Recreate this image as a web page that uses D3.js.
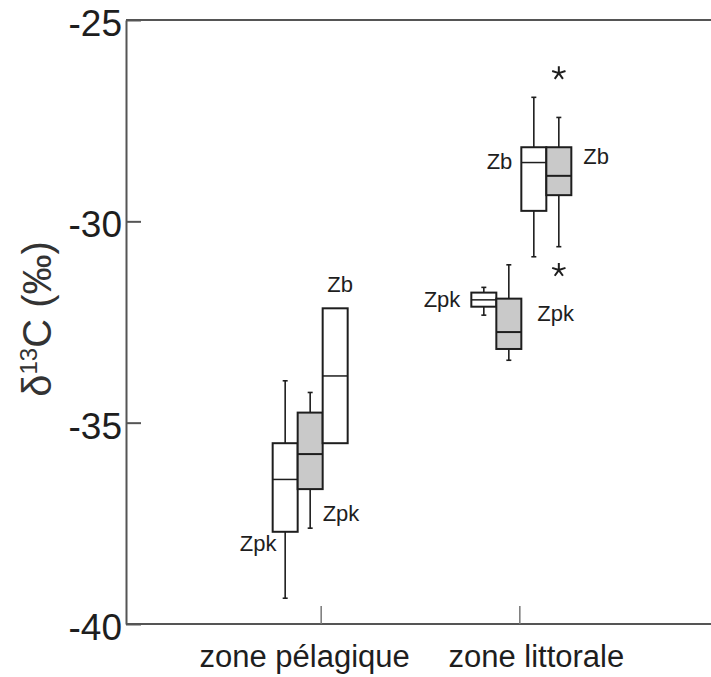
<!DOCTYPE html>
<html>
<head>
<meta charset="utf-8">
<script src="https://cdn.jsdelivr.net/npm/d3@7"></script>
<style>
  html, body { margin: 0; padding: 0; background: #fff; }
  svg { display: block; font-family: "Liberation Sans", Arial, sans-serif; }
</style>
</head>
<body>
<svg id="chart" width="711" height="677"></svg>
<script>
// ---------------- DATA ----------------
const categories = ["zone pélagique", "zone littorale"];
const slots = ["Zpk-blanc", "Zpk-gris", "Zb-blanc", "Zb-gris"];   // white / grey boxes per group
const yTicks = [-25, -30, -35, -40];

// one entry per drawn box
const boxCategory = ["zone pélagique", "zone pélagique", "zone pélagique", "zone littorale", "zone littorale", "zone littorale", "zone littorale"];
const boxSlot     = ["Zpk-blanc", "Zpk-gris", "Zb-blanc", "Zpk-blanc", "Zpk-gris", "Zb-blanc", "Zb-gris"];
const boxLabel    = ["Zpk", "Zpk", "Zb", "Zpk", "Zpk", "Zb", "Zb"];
const whiskerLow  = [-39.36, -37.62, null, -32.33, -33.45, -30.88, -30.63];
const q1          = [-37.71, -36.65, -35.51, -32.12, -33.17, -29.74, -29.35];
const median      = [-36.41, -35.78, -33.84, -31.95, -32.75, -28.54, -28.87];
const q3          = [-35.51, -34.75, -32.16, -31.77, -31.92, -28.16, -28.16];
const whiskerHigh = [-33.96, -34.25, null, -31.64, -31.08, -26.92, -27.42];

// outliers (asterisks)
const outlierCategory = ["zone littorale", "zone littorale"];
const outlierSlot     = ["Zb-gris", "Zb-gris"];
const outlierValue    = [-26.32, -31.21];

// ---------------- LAYOUT ----------------
(function () {
const svg = d3.select("#chart");
const mLeft = 126, mRight = 711, mTop = 20, mBottom = 624;

const y = d3.scaleLinear().domain([-40, -25]).range([mBottom, mTop]);
const x = d3.scalePoint().domain(categories).range([mLeft, 714]).padding(0.98);
const inner = d3.scaleBand().domain(slots).range([-48, 52]).paddingInner(0);
const bw = inner.bandwidth();

// label placement per box (anchor relative to the box)
const labelLayout = [
  {anchor: "middle", dx: b => b.cx - 27,        dy: b => y(b.q1) + 19},
  {anchor: "start",  dx: b => b.x1 + 0,         dy: b => y(b.q1) + 32},
  {anchor: "middle", dx: b => b.cx + 5,         dy: b => y(b.q3) - 16},
  {anchor: "end",    dx: b => b.x0 - 11,        dy: b => y(b.q3) + 14},
  {anchor: "start",  dx: b => b.x1 + 16,        dy: b => y(b.q3) + 22},
  {anchor: "end",    dx: b => b.x0 - 9,         dy: b => y(b.q3) + 22},
  {anchor: "start",  dx: b => b.x1 + 12,        dy: b => y(b.q3) + 17}
];

const boxes = boxCategory.map((c, i) => {
  const x0 = x(c) + inner(boxSlot[i]);
  return {
    i, x0, x1: x0 + bw, cx: x0 + bw / 2,
    grey: boxSlot[i].endsWith("gris"),
    lo: whiskerLow[i], q1: q1[i], med: median[i], q3: q3[i], hi: whiskerHigh[i],
    label: boxLabel[i]
  };
});

const axisColor = "#555";
const ink = "#1e1e1e";

// frame: top & bottom lines, left axis
svg.append("line").attr("x1", mLeft).attr("x2", mRight).attr("y1", mTop).attr("y2", mTop)
  .attr("stroke", axisColor).attr("stroke-width", 2);
svg.append("line").attr("x1", mLeft).attr("x2", mRight).attr("y1", mBottom).attr("y2", mBottom)
  .attr("stroke", axisColor).attr("stroke-width", 2);

// y axis with inward ticks
const yAxis = d3.axisLeft(y).tickValues(yTicks).tickSizeInner(-15).tickSizeOuter(0).tickPadding(4)
  .tickFormat(d3.format("d"));
const gy = svg.append("g").attr("transform", `translate(${mLeft},0)`).call(yAxis);
gy.select(".domain").attr("stroke", axisColor).attr("stroke-width", 2);
gy.selectAll(".tick line").attr("stroke", axisColor).attr("stroke-width", 2);
gy.selectAll(".tick text")
  .attr("x", -4).attr("dy", "0.42em")
  .attr("font-size", 37).attr("fill", ink)
  .attr("font-family", "Liberation Sans, Arial, sans-serif")
  .text(d => "-" + Math.abs(d));

// x axis ticks (inward) + labels
const xAxis = d3.axisBottom(x).tickSizeInner(-18).tickSizeOuter(0).tickPadding(0).tickFormat("");
const gx = svg.append("g").attr("transform", `translate(0,${mBottom})`).call(xAxis);
gx.select(".domain").remove();
gx.selectAll(".tick line").attr("stroke", "#777").attr("stroke-width", 1.5);

const xLabelShift = {"zone pélagique": -16, "zone littorale": 17};
svg.append("g").selectAll("text").data(categories).join("text")
  .attr("x", d => x(d) + xLabelShift[d]).attr("y", 667)
  .attr("text-anchor", "middle").attr("font-size", 31).attr("fill", ink)
  .text(d => d);

// y-axis title  δ13C (‰)
const yt = svg.append("text")
  .attr("transform", `translate(51,319) rotate(-90)`)
  .attr("text-anchor", "middle").attr("font-size", 40).attr("fill", "#333");
yt.append("tspan").text("δ");
yt.append("tspan").attr("font-size", 24).attr("dy", -14).text("13");
yt.append("tspan").attr("dy", 14).text("C (‰)");

// ---------------- BOXES ----------------
const g = svg.append("g");
boxes.forEach(b => {
  if (b.hi != null) {
    g.append("line").attr("x1", b.cx).attr("x2", b.cx).attr("y1", y(b.q3)).attr("y2", y(b.hi))
      .attr("stroke", ink).attr("stroke-width", 1.6);
    g.append("line").attr("x1", b.cx - 2.5).attr("x2", b.cx + 2.5).attr("y1", y(b.hi)).attr("y2", y(b.hi))
      .attr("stroke", ink).attr("stroke-width", 1.6);
  }
  if (b.lo != null) {
    g.append("line").attr("x1", b.cx).attr("x2", b.cx).attr("y1", y(b.q1)).attr("y2", y(b.lo))
      .attr("stroke", ink).attr("stroke-width", 1.6);
    g.append("line").attr("x1", b.cx - 2.5).attr("x2", b.cx + 2.5).attr("y1", y(b.lo)).attr("y2", y(b.lo))
      .attr("stroke", ink).attr("stroke-width", 1.6);
  }
});
boxes.forEach(b => {
  g.append("rect").attr("x", b.x0).attr("y", y(b.q3)).attr("width", bw).attr("height", y(b.q1) - y(b.q3))
    .attr("fill", b.grey ? "#c9c9c9" : "#fff").attr("stroke", ink).attr("stroke-width", 2);
  g.append("line").attr("x1", b.x0).attr("x2", b.x1).attr("y1", y(b.med)).attr("y2", y(b.med))
    .attr("stroke", ink).attr("stroke-width", b.grey ? 2 : 1.5);
});

// labels
boxes.forEach((b, i) => {
  const L = labelLayout[i];
  svg.append("text").attr("x", L.dx(b)).attr("y", L.dy(b)).attr("text-anchor", L.anchor)
    .attr("font-size", 22).attr("fill", ink).text(b.label);
});

// outliers: five-armed asterisks
const star = r => {
  let p = "";
  for (let k = 0; k < 5; k++) {
    const a = -Math.PI / 2 + k * 2 * Math.PI / 5;
    p += `M0,0L${(r * Math.cos(a)).toFixed(2)},${(r * Math.sin(a)).toFixed(2)}`;
  }
  return p;
};
svg.append("g").selectAll("path").data(outlierValue).join("path")
  .attr("transform", (d, i) => `translate(${x(outlierCategory[i]) + inner(outlierSlot[i]) + bw / 2},${y(d)})`)
  .attr("d", star(7)).attr("stroke", ink).attr("stroke-width", 2).attr("fill", "none");
})();
</script>
</body>
</html>
